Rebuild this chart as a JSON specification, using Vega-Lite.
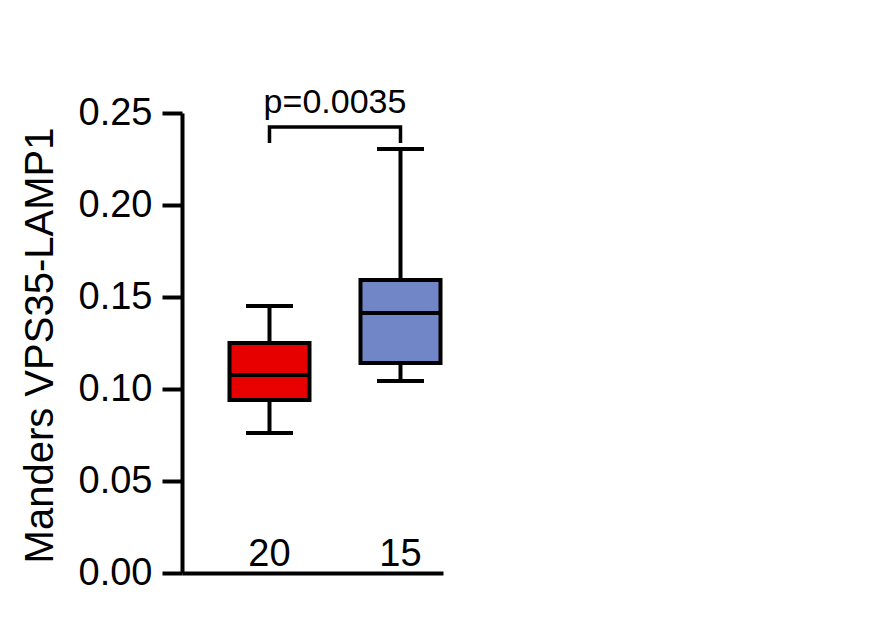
{
  "$schema": "https://vega.github.io/schema/vega-lite/v6.json",
  "autosize": "none",
  "width": 261,
  "height": 460,
  "padding": {"left": 182, "top": 113, "right": 453, "bottom": 51},
  "background": "white",
  "config": {
    "view": {"stroke": null},
    "font": "Liberation Sans",
    "axis": {"grid": false, "domainColor": "black", "tickColor": "black", "labelColor": "black", "titleColor": "black", "labelFont": "Liberation Sans", "titleFont": "Liberation Sans"}
  },
  "datasets": {
    "boxes": [
      {"n": "20", "lower": 0.0761, "q1": 0.094, "median": 0.1076, "q3": 0.125, "upper": 0.1451},
      {"n": "15", "lower": 0.1043, "q1": 0.1141, "median": 0.1413, "q3": 0.1592, "upper": 0.2304}
    ],
    "bracket": [
      {"n": "20", "y": 0.2337, "k": 1},
      {"n": "20", "y": 0.2424, "k": 2},
      {"n": "15", "y": 0.2424, "k": 3},
      {"n": "15", "y": 0.2337, "k": 4}
    ],
    "pval": [{"n": "20", "y": 0.25, "label": "p=0.0035"}]
  },
  "encoding": {
    "x": {
      "field": "n", "type": "nominal", "sort": ["20", "15"],
      "scale": {"domain": ["20", "15"], "paddingInner": 0.3893, "paddingOuter": 0.1908, "align": 0.95},
      "axis": {"title": null, "ticks": false, "domainWidth": 4, "labelAngle": 0, "labelFontSize": 38, "labelBaseline": "alphabetic", "labelPadding": -8}
    }
  },
  "layer": [
    {
      "data": {"name": "boxes"},
      "mark": {"type": "rule", "strokeWidth": 4, "color": "black", "opacity": 1},
      "encoding": {
        "y": {"field": "lower", "type": "quantitative",
          "scale": {"domain": [0, 0.25], "nice": false, "zero": true},
          "axis": {"title": "Manders VPS35-LAMP1", "titleFontSize": 40, "titleFontWeight": "normal", "titleAngle": -90, "titleBaseline": "alphabetic", "titleX": -130, "titleY": 232, "titleAlign": "center", "values": [0, 0.05, 0.1, 0.15, 0.2, 0.25], "format": ".2f", "labelFontSize": 38, "labelPadding": 10, "tickSize": 20, "tickWidth": 4, "domainWidth": 4}},
        "y2": {"field": "upper"}
      }
    },
    {
      "data": {"name": "boxes"},
      "mark": {"type": "tick", "size": 47, "thickness": 4, "color": "black", "opacity": 1},
      "encoding": {"y": {"field": "lower", "type": "quantitative"}}
    },
    {
      "data": {"name": "boxes"},
      "mark": {"type": "tick", "size": 47, "thickness": 4, "color": "black", "opacity": 1},
      "encoding": {"y": {"field": "upper", "type": "quantitative"}}
    },
    {
      "data": {"name": "boxes"},
      "mark": {"type": "bar", "stroke": "black", "strokeWidth": 4, "opacity": 1},
      "encoding": {
        "y": {"field": "q1", "type": "quantitative"},
        "y2": {"field": "q3"},
        "color": {"field": "n", "type": "nominal", "scale": {"domain": ["20", "15"], "range": ["#E60000", "#7086C6"]}, "legend": null}
      }
    },
    {
      "data": {"name": "boxes"},
      "mark": {"type": "tick", "size": 80, "thickness": 4, "color": "black", "opacity": 1},
      "encoding": {"y": {"field": "median", "type": "quantitative"}}
    },
    {
      "data": {"name": "bracket"},
      "mark": {"type": "line", "strokeWidth": 3.5, "color": "black", "strokeCap": "butt", "strokeJoin": "miter"},
      "encoding": {
        "y": {"field": "y", "type": "quantitative"},
        "order": {"field": "k", "type": "quantitative"}
      }
    },
    {
      "data": {"name": "pval"},
      "mark": {"type": "text", "fontSize": 34, "dx": 65.5, "baseline": "alphabetic", "align": "center", "color": "black"},
      "encoding": {
        "y": {"field": "y", "type": "quantitative"},
        "text": {"field": "label"}
      }
    }
  ]
}
